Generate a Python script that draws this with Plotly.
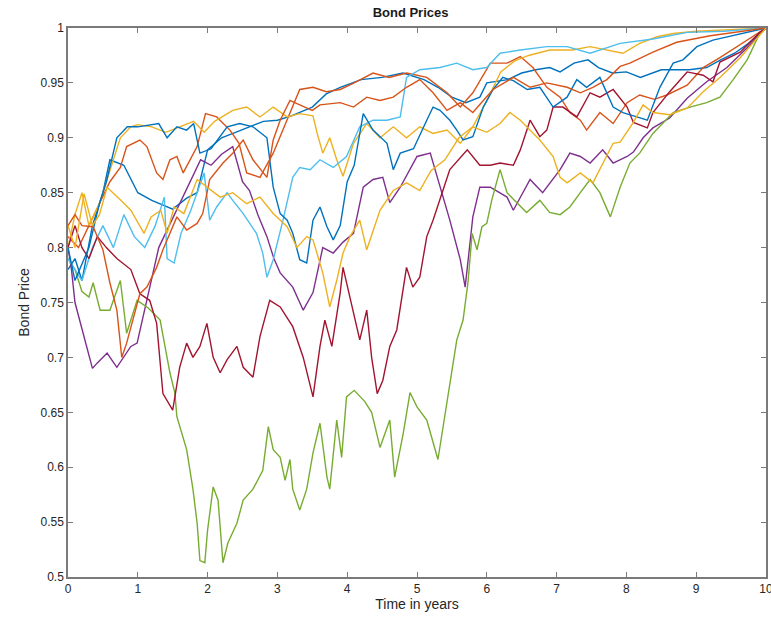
import plotly.graph_objects as go

# ---- simulated bond price paths (time in years, price) ----
b1_t = [0, 0.1, 0.2, 0.35, 0.5, 0.6, 0.8, 1.0, 1.2, 1.5,
        1.7, 1.85, 2.0, 2.2, 2.4, 2.6, 2.8, 3.0, 3.2, 3.5,
        3.7, 3.9, 4.2, 4.5, 4.8, 5.1, 5.3, 5.5, 5.7, 5.9,
        6.0, 6.3, 6.5, 6.7, 6.9, 7.05, 7.25, 7.45, 7.6, 7.8,
        8.0, 8.2, 8.5, 8.9, 9.15, 9.35, 9.55, 9.75, 10]
b1_v = [0.78, 0.79, 0.77, 0.82, 0.85, 0.88, 0.875, 0.85, 0.843, 0.835,
        0.845, 0.85, 0.889, 0.9, 0.905, 0.91, 0.915, 0.916, 0.92, 0.928,
        0.94, 0.946, 0.953, 0.955, 0.959, 0.953, 0.946, 0.937, 0.932, 0.937,
        0.95, 0.953, 0.959, 0.962, 0.964, 0.96, 0.968, 0.971, 0.964, 0.959,
        0.96, 0.955, 0.962, 0.962, 0.964, 0.971, 0.977, 0.986, 1.0]

o1_t = [0, 0.15, 0.3, 0.45, 0.6, 0.75, 0.84, 1.03, 1.13, 1.27,
        1.36, 1.46, 1.56, 1.65, 1.75, 1.85, 1.97, 2.13, 2.32, 2.45,
        2.56, 2.75, 2.94, 3.14, 3.32, 3.51, 3.7, 3.9, 4.1, 4.37,
        4.6, 4.85, 5.14, 5.43, 5.62, 5.8, 6.05, 6.29, 6.48, 6.66,
        6.86, 7.05, 7.19, 7.34, 7.43, 7.62, 7.81, 8.01, 8.19, 8.4,
        8.58, 8.87, 9.1, 9.34, 9.63, 10]
o1_v = [0.81, 0.8, 0.82, 0.84, 0.86, 0.873, 0.892, 0.898, 0.892, 0.868,
        0.862, 0.88, 0.883, 0.868, 0.88, 0.892, 0.922, 0.919, 0.907, 0.895,
        0.868, 0.864, 0.886, 0.916, 0.944, 0.946, 0.942, 0.944, 0.95, 0.959,
        0.955, 0.959, 0.955, 0.941, 0.928, 0.941, 0.968, 0.968, 0.974, 0.964,
        0.946, 0.937, 0.923, 0.916, 0.907, 0.923, 0.913, 0.932, 0.939, 0.935,
        0.939, 0.948, 0.964, 0.973, 0.985, 1.0]

y1_t = [0, 0.1, 0.2, 0.3, 0.45, 0.6, 0.75, 0.9, 1.0, 1.2,
        1.4, 1.6, 1.8, 1.95, 2.1, 2.36, 2.56, 2.75, 2.94, 3.14,
        3.32, 3.51, 3.57, 3.65, 3.75, 3.85, 3.94, 4.09, 4.28, 4.47,
        4.66, 4.85, 5.04, 5.23, 5.43, 5.62, 5.8, 6.0, 6.2, 6.4,
        6.6, 6.9, 7.23, 7.48, 7.72, 7.95, 8.19, 8.44, 8.67, 9.0,
        10]
y1_v = [0.8, 0.83, 0.85, 0.82, 0.84, 0.87, 0.9, 0.91, 0.912, 0.91,
        0.905, 0.91, 0.915, 0.905, 0.915, 0.925, 0.928, 0.919, 0.928, 0.919,
        0.922, 0.92, 0.904, 0.886, 0.9, 0.88, 0.865, 0.895, 0.913, 0.9,
        0.91, 0.9, 0.91, 0.904, 0.907, 0.895, 0.91, 0.934, 0.96, 0.97,
        0.975, 0.98, 0.98, 0.983, 0.98, 0.977, 0.986, 0.992, 0.995, 0.997,
        1.0]

p_t = [0, 0.05, 0.1, 0.19, 0.27, 0.35, 0.42, 0.56, 0.7, 0.8,
       0.9, 0.99, 1.05, 1.15, 1.3, 1.45, 1.6, 1.75, 1.9, 2.05,
       2.2, 2.36, 2.5, 2.6, 2.72, 2.85, 2.95, 3.04, 3.22, 3.37,
       3.51, 3.65, 3.8, 3.94, 4.09, 4.23, 4.37, 4.51, 4.61, 4.76,
       5.0, 5.19, 5.33, 5.47, 5.62, 5.69, 5.8, 5.9, 6.05, 6.29,
       6.38, 6.62, 6.8, 7.05, 7.19, 7.34, 7.48, 7.66, 7.81, 8.01,
       8.1, 8.24, 8.38, 8.62, 8.87, 9.15, 9.44, 9.73, 10]
p_v = [0.8, 0.78, 0.75, 0.728, 0.71, 0.69, 0.695, 0.704, 0.691, 0.7,
       0.71, 0.713, 0.73, 0.76, 0.8, 0.82, 0.84, 0.86, 0.88, 0.875,
       0.885, 0.892, 0.86, 0.852, 0.83, 0.81, 0.79, 0.777, 0.764, 0.743,
       0.759, 0.8, 0.795, 0.805, 0.813, 0.855, 0.862, 0.864, 0.841, 0.855,
       0.883, 0.886, 0.855, 0.825, 0.789, 0.764, 0.828, 0.855, 0.855, 0.846,
       0.834, 0.862, 0.85, 0.871, 0.886, 0.883, 0.877, 0.889, 0.877, 0.883,
       0.887, 0.9, 0.909, 0.918, 0.936, 0.951, 0.964, 0.982, 1.0]

g_t = [0, 0.1, 0.2, 0.3, 0.36, 0.46, 0.6, 0.75, 0.84, 0.99,
       1.15, 1.32, 1.46, 1.53, 1.56, 1.7, 1.79, 1.85, 1.89, 1.96,
       2.0, 2.08, 2.15, 2.22, 2.29, 2.42, 2.51, 2.65, 2.79, 2.87,
       2.94, 3.04, 3.11, 3.18, 3.22, 3.32, 3.42, 3.51, 3.61, 3.71,
       3.75, 3.85, 3.92, 3.99, 4.1, 4.25, 4.35, 4.47, 4.61, 4.68,
       4.8, 4.9, 5.0, 5.14, 5.3, 5.43, 5.57, 5.66, 5.73, 5.79,
       5.86, 5.93, 6.0, 6.07, 6.19, 6.29, 6.45, 6.57, 6.76, 6.9,
       7.05, 7.19, 7.34, 7.48, 7.62, 7.77, 7.91, 8.05, 8.19, 8.38,
       8.67, 8.91, 9.15, 9.34, 9.53, 9.73, 9.91, 10]
g_v = [0.79, 0.78, 0.76, 0.755, 0.768, 0.743, 0.743, 0.77, 0.722, 0.752,
       0.745, 0.734, 0.686, 0.668, 0.646, 0.616, 0.58, 0.549, 0.515, 0.513,
       0.543, 0.582, 0.57, 0.513, 0.531, 0.549, 0.57, 0.58, 0.597, 0.637,
       0.616, 0.609, 0.588, 0.607, 0.58, 0.561, 0.58, 0.613, 0.64, 0.591,
       0.58, 0.643, 0.609, 0.664, 0.67, 0.66, 0.65, 0.618, 0.643, 0.591,
       0.63, 0.668, 0.655, 0.643, 0.607, 0.66, 0.716, 0.734, 0.768, 0.813,
       0.798, 0.819, 0.822, 0.843, 0.871, 0.85, 0.84, 0.832, 0.843, 0.832,
       0.83, 0.837, 0.85, 0.862, 0.85, 0.828, 0.855, 0.877, 0.886, 0.904,
       0.923, 0.928, 0.932, 0.937, 0.953, 0.971, 0.995, 1.0]

c_t = [0, 0.1, 0.2, 0.35, 0.5, 0.65, 0.8, 0.95, 1.1, 1.25,
       1.38, 1.42, 1.52, 1.62, 1.76, 1.95, 2.03, 2.13, 2.28, 2.36,
       2.51, 2.7, 2.79, 2.85, 2.94, 3.08, 3.22, 3.32, 3.47, 3.61,
       3.8, 3.99, 4.18, 4.37, 4.57, 4.76, 4.85, 5.04, 5.33, 5.57,
       5.8, 6.0, 6.19, 6.48, 6.86, 7.15, 7.48, 7.91, 8.38, 8.87,
       9.4, 10]
c_v = [0.79, 0.78, 0.77, 0.8, 0.82, 0.8, 0.83, 0.81, 0.8, 0.82,
       0.846, 0.79, 0.786, 0.813, 0.834, 0.868, 0.825, 0.837, 0.85, 0.843,
       0.831, 0.813, 0.795, 0.773, 0.789, 0.825, 0.864, 0.873, 0.871, 0.88,
       0.873, 0.883, 0.91, 0.916, 0.916, 0.919, 0.955, 0.962, 0.964, 0.968,
       0.962, 0.964, 0.977, 0.98, 0.983, 0.983, 0.977, 0.986, 0.99, 0.996,
       0.997, 1.0]

r_t = [0, 0.1, 0.2, 0.3, 0.42, 0.55, 0.7, 0.9, 1.03, 1.17,
       1.27, 1.32, 1.36, 1.5, 1.6, 1.7, 1.79, 1.89, 1.99, 2.08,
       2.18, 2.28, 2.42, 2.51, 2.65, 2.75, 2.89, 3.04, 3.22, 3.37,
       3.51, 3.61, 3.68, 3.78, 3.9, 3.94, 4.09, 4.18, 4.28, 4.35,
       4.43, 4.51, 4.61, 4.71, 4.85, 4.94, 5.04, 5.14, 5.23, 5.36,
       5.47, 5.72, 5.9, 6.05, 6.19, 6.38, 6.48, 6.62, 6.76, 6.86,
       6.95, 7.09, 7.29, 7.48, 7.62, 7.81, 8.01, 8.1, 8.3, 8.38,
       8.62, 8.87, 9.1, 9.24, 9.34, 9.63, 9.91, 10]
r_v = [0.8, 0.82, 0.8, 0.79, 0.81, 0.8, 0.79, 0.78, 0.758, 0.752,
       0.731, 0.691, 0.667, 0.652, 0.691, 0.713, 0.7, 0.71, 0.731, 0.7,
       0.686, 0.698, 0.71, 0.691, 0.682, 0.719, 0.752, 0.746, 0.728, 0.7,
       0.664, 0.71, 0.734, 0.71, 0.759, 0.782, 0.74, 0.716, 0.743, 0.7,
       0.667, 0.679, 0.71, 0.725, 0.782, 0.764, 0.773, 0.81, 0.825, 0.85,
       0.871, 0.889, 0.875, 0.875, 0.877, 0.875, 0.889, 0.916, 0.901, 0.907,
       0.928, 0.928, 0.919, 0.941, 0.937, 0.944, 0.928, 0.914, 0.909, 0.923,
       0.942, 0.96, 0.957, 0.951, 0.969, 0.978, 0.996, 1.0]

b2_t = [0, 0.1, 0.3, 0.45, 0.55, 0.7, 0.85, 1.0, 1.3, 1.42,
        1.56, 1.7, 1.8, 1.89, 2.05, 2.28, 2.46, 2.65, 2.85, 2.94,
        3.04, 3.14, 3.22, 3.32, 3.42, 3.51, 3.61, 3.71, 3.8, 3.9,
        4.0, 4.1, 4.23, 4.37, 4.57, 4.66, 4.76, 4.95, 5.14, 5.23,
        5.33, 5.47, 5.57, 5.66, 5.8, 5.95, 6.09, 6.23, 6.38, 6.58,
        6.76, 6.95, 7.15, 7.29, 7.43, 7.62, 7.81, 7.95, 8.15, 8.3,
        8.48, 8.67, 8.81, 9.01, 9.24, 9.6, 10]
b2_v = [0.8, 0.77, 0.8, 0.84, 0.86, 0.9, 0.91, 0.91, 0.913, 0.9,
        0.91, 0.907, 0.913, 0.886, 0.89, 0.91, 0.913, 0.91, 0.9, 0.855,
        0.831, 0.825, 0.813, 0.789, 0.786, 0.825, 0.837, 0.819, 0.807, 0.82,
        0.86, 0.875, 0.922, 0.907, 0.895, 0.871, 0.886, 0.89, 0.916, 0.928,
        0.925, 0.916, 0.907, 0.898, 0.901, 0.928, 0.944, 0.955, 0.952, 0.944,
        0.946, 0.928, 0.937, 0.953, 0.946, 0.955, 0.928, 0.923, 0.919, 0.916,
        0.946, 0.968, 0.971, 0.983, 0.989, 0.994, 1.0]

o2_t = [0, 0.1, 0.2, 0.36, 0.5, 0.6, 0.7, 0.77, 0.84, 0.93,
        1.03, 1.13, 1.27, 1.36, 1.46, 1.56, 1.7, 1.85, 1.93, 2.03,
        2.22, 2.36, 2.51, 2.65, 2.85, 2.94, 3.04, 3.18, 3.32, 3.5,
        3.61, 3.9, 4.09, 4.28, 4.47, 4.66, 4.85, 5.04, 5.23, 5.43,
        5.62, 5.8, 5.95, 6.09, 6.38, 6.62, 6.86, 7.15, 7.34, 7.52,
        7.72, 7.91, 8.05, 8.38, 8.72, 9.2, 10]
o2_v = [0.82, 0.83, 0.82, 0.819, 0.798, 0.768, 0.743, 0.7, 0.713, 0.734,
        0.758, 0.764, 0.782, 0.798, 0.813, 0.828, 0.816, 0.822, 0.831, 0.862,
        0.877, 0.886, 0.898, 0.88, 0.864, 0.898, 0.916, 0.934, 0.93, 0.925,
        0.93, 0.932, 0.928, 0.937, 0.934, 0.937, 0.946, 0.953, 0.941, 0.925,
        0.932, 0.923, 0.934, 0.944, 0.955, 0.946, 0.95, 0.946, 0.941, 0.946,
        0.953, 0.965, 0.968, 0.978, 0.987, 0.993, 1.0]

y2_t = [0, 0.1, 0.23, 0.35, 0.45, 0.56, 0.76, 0.9, 1.09, 1.19,
        1.33, 1.42, 1.52, 1.66, 1.85, 2.05, 2.18, 2.36, 2.56, 2.75,
        2.94, 3.14, 3.28, 3.42, 3.51, 3.65, 3.75, 3.85, 3.94, 4.04,
        4.18, 4.28, 4.37, 4.47, 4.66, 4.85, 5.04, 5.2, 5.4, 5.6,
        5.8, 6.0, 6.19, 6.33, 6.48, 6.76, 6.95, 7.05, 7.15, 7.34,
        7.52, 7.62, 7.81, 7.91, 8.1, 8.24, 8.38, 8.62, 8.87, 9.1,
        9.34, 9.63, 10]
y2_v = [0.82, 0.8, 0.849, 0.82, 0.83, 0.855, 0.843, 0.834, 0.813, 0.828,
        0.834, 0.813, 0.837, 0.831, 0.862, 0.852, 0.846, 0.85, 0.84, 0.846,
        0.831, 0.819, 0.8, 0.81, 0.807, 0.777, 0.746, 0.77, 0.795, 0.81,
        0.825, 0.798, 0.816, 0.834, 0.852, 0.859, 0.852, 0.87, 0.88, 0.9,
        0.91, 0.905, 0.913, 0.923, 0.916, 0.898, 0.883, 0.864, 0.859, 0.868,
        0.859, 0.871, 0.895, 0.896, 0.914, 0.93, 0.923, 0.921, 0.927, 0.942,
        0.955, 0.973, 1.0]

y_tick_vals = [0.5, 0.55, 0.6, 0.65, 0.7, 0.75, 0.8, 0.85, 0.9, 0.95, 1.0]
y_tick_text = ["0.5", "0.55", "0.6", "0.65", "0.7", "0.75", "0.8", "0.85", "0.9", "0.95", "1"]
x_tick_vals = [0, 1, 2, 3, 4, 5, 6, 7, 8, 9, 10]

# default line colour order, drawn in sequence
paths = [
    (b1_t, b1_v, "#0072BD"),
    (o1_t, o1_v, "#D95319"),
    (y1_t, y1_v, "#EDB120"),
    (p_t, p_v, "#7E2F8E"),
    (g_t, g_v, "#77AC30"),
    (c_t, c_v, "#4DBEEE"),
    (r_t, r_v, "#A2142F"),
    (b2_t, b2_v, "#0072BD"),
    (o2_t, o2_v, "#D95319"),
    (y2_t, y2_v, "#EDB120"),
]

fig = go.Figure()
for t, v, col in paths:
    assert len(t) == len(v)
    fig.add_trace(go.Scatter(x=t, y=v, mode="lines",
                             line=dict(color=col, width=1.4),
                             showlegend=False, hoverinfo="skip"))

axis_style = dict(
    showgrid=False, zeroline=False, automargin=False,
    ticklabeloverflow="allow",
    showline=True, linecolor="#7a7a7a", linewidth=1.5, mirror="ticks",
    ticks="inside", ticklen=5, tickwidth=1, tickcolor="#7a7a7a",
    tickfont=dict(family="Liberation Sans, Arial, sans-serif", size=12, color="#262626"),
)

fig.update_xaxes(range=[0, 10], tickvals=x_tick_vals,
                 title=dict(text="Time in years", standoff=2,
                            font=dict(family="Liberation Sans, Arial, sans-serif",
                                      size=14, color="#262626")),
                 **axis_style)
fig.update_yaxes(range=[0.5, 1], tickvals=y_tick_vals, ticktext=y_tick_text,
                 title=dict(text="Bond Price", standoff=8,
                            font=dict(family="Liberation Sans, Arial, sans-serif",
                                      size=14, color="#262626")),
                 **axis_style)

fig.update_layout(
    width=771, height=619,
    margin=dict(l=68, r=5, t=28, b=42),
    paper_bgcolor="white", plot_bgcolor="white",
    title=dict(text="<b>Bond Prices</b>", x=0.5325, xanchor="center",
               y=1 - 12 / 619, yanchor="middle",
               font=dict(family="Liberation Sans, Arial, sans-serif",
                         size=13, color="#1a1a1a")),
)

fig.write_html("out.html")
